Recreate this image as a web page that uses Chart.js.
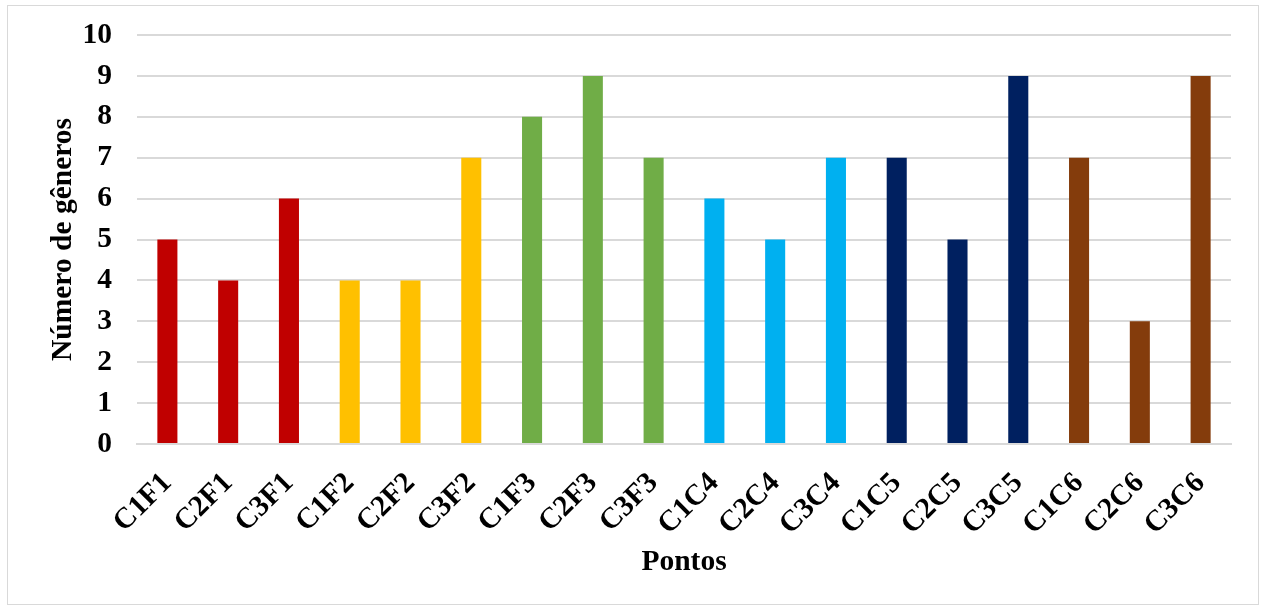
<!DOCTYPE html>
<html>
<head>
<meta charset="utf-8">
<script src="https://cdn.jsdelivr.net/npm/chart.js@4/dist/chart.umd.min.js"></script>
<style>
  html, body { margin: 0; padding: 0; background: #ffffff; }
  #frame {
    position: absolute; left: 7px; top: 5px; width: 1252px; height: 600px;
    border: 1.5px solid #d9d9d9; box-sizing: border-box;
  }
  #wrap { position: absolute; left: 0; top: 0; width: 1267px; height: 608px; }
</style>
</head>
<body>
<div id="frame"></div>
<div id="wrap"><canvas id="chart" width="1267" height="608"></canvas></div>
<script>
// Sampling points and number of genera found at each
const categories = ['C1F1','C2F1','C3F1','C1F2','C2F2','C3F2','C1F3','C2F3','C3F3',
                    'C1C4','C2C4','C3C4','C1C5','C2C5','C3C5','C1C6','C2C6','C3C6'];
const generaCount = [5, 4, 6, 4, 4, 7, 8, 9, 7, 6, 5, 7, 7, 5, 9, 7, 3, 9];
const groupColors = ['#C00000','#C00000','#C00000','#FFC000','#FFC000','#FFC000',
                     '#70AD47','#70AD47','#70AD47','#00B0F0','#00B0F0','#00B0F0',
                     '#002060','#002060','#002060','#843C0C','#843C0C','#843C0C'];
const yTicks = [0,1,2,3,4,5,6,7,8,9,10];

const font = { family: "'Liberation Serif', 'Times New Roman', serif", weight: 'bold', size: 29.5 };

// Plot area bounds in canvas pixels
const AREA = { left: 137, right: 1231, top: 35, bottom: 444 };

new Chart(document.getElementById('chart'), {
  type: 'bar',
  data: {
    labels: categories,
    datasets: [{
      data: generaCount,
      backgroundColor: groupColors,
      borderWidth: 0,
      barPercentage: 0.33,
      categoryPercentage: 1.0
    }]
  },
  options: {
    responsive: false,
    animation: false,
    devicePixelRatio: 1,
    layout: { padding: { left: 46, right: 1267 - AREA.right, top: AREA.top, bottom: 28 } },
    plugins: { legend: { display: false }, tooltip: { enabled: false } },
    scales: {
      x: {
        grid: { display: false, drawTicks: false },
        border: { display: true, color: '#d9d9d9', width: 2 },
        ticks: {
          color: '#000', font: font, maxRotation: 45, minRotation: 45,
          padding: 22, autoSkip: false
        },
        title: {
          display: true, text: 'Pontos', color: '#000', font: font,
          padding: { top: 4, bottom: 0 }
        },
        afterFit: (s) => { s.height = 608 - AREA.bottom - 28; }
      },
      y: {
        min: 0, max: 10,
        afterBuildTicks: (s) => { s.ticks = yTicks.map(v => ({ value: v })); },
        // invisible tick marks keep the gap between the numbers and the plot
        grid: { color: '#d9d9d9', lineWidth: 2, drawTicks: true, tickLength: 25, tickColor: 'rgba(0,0,0,0)' },
        border: { display: false },
        ticks: { color: '#000', font: font, padding: 0 },
        title: {
          display: true, text: 'Número de gêneros', color: '#000', font: font,
          padding: { top: 0, bottom: 0 }
        },
        afterFit: (s) => { s.width = AREA.left - 46; }
      }
    }
  }
});
</script>
</body>
</html>
